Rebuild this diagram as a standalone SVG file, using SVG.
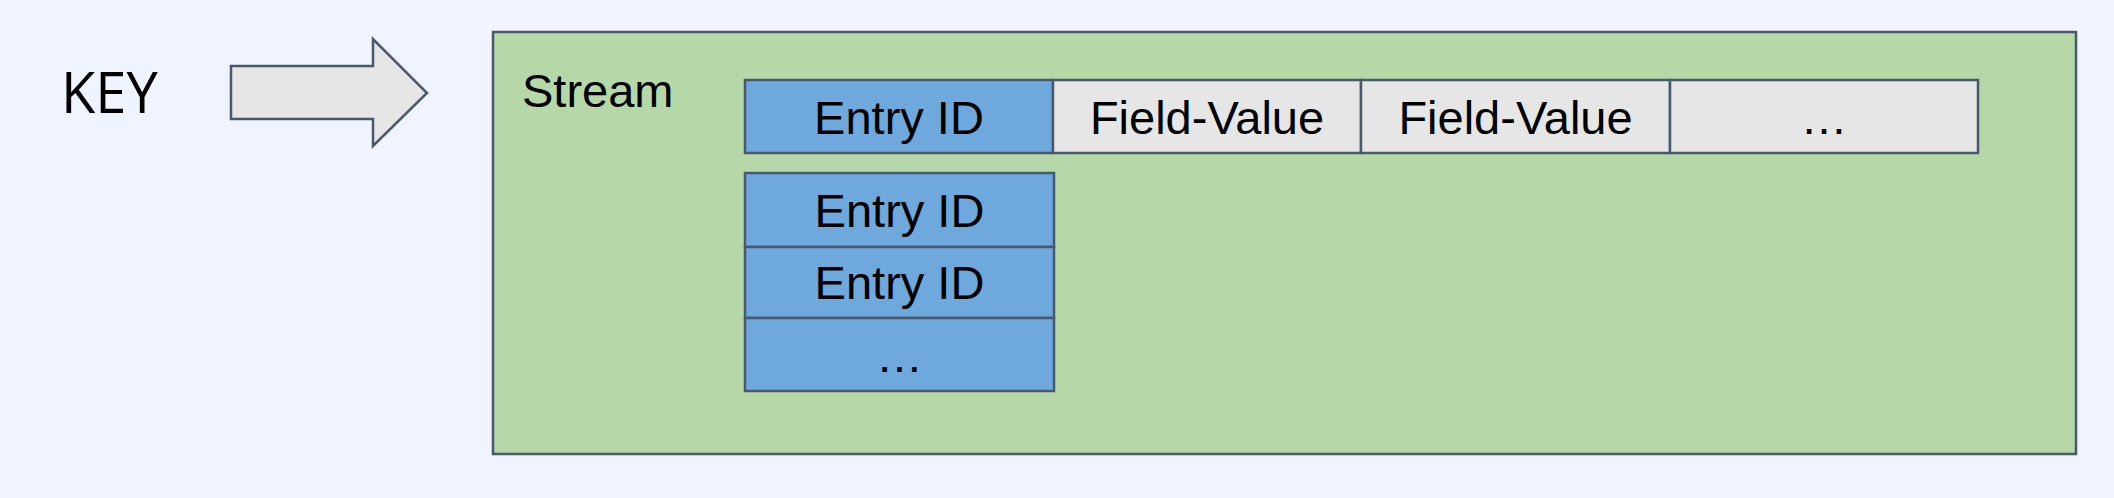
<svg xmlns="http://www.w3.org/2000/svg" width="2114" height="498" viewBox="0 0 2114 498">
<style>
.ln{stroke:#4a586e;stroke-width:2.5;stroke-linejoin:miter}
.blue{fill:#6fa8dc}
.grey{fill:#e6e6e6}
.t{font-family:"Liberation Sans",Arial,sans-serif;font-size:47px;fill:#000;text-anchor:middle}
</style>
<rect x="0" y="0" width="2114" height="498" fill="#f0f4fe"/>
<g id="key">
<text x="61" y="113" style="font-family:'Open Sans','Noto Sans',sans-serif;font-size:56px;fill:#000">KEY</text>
</g>
<g id="connectors">
<path class="ln grey" d="M231,66 L373,66 L373,39 L427,93 L373,146 L373,119 L231,119 Z"/>
</g>
<g id="stream">
<rect class="ln" x="493" y="32" width="1583" height="422" fill="#b6d7a8"/>
<text x="522" y="107" style="font-family:'Liberation Sans',Arial,sans-serif;font-size:47px;fill:#000">Stream</text>
</g>
<g id="entry-row">
<rect class="ln blue" x="745" y="80" width="308" height="73"/>
<rect class="ln grey" x="1053" y="80" width="308" height="73"/>
<rect class="ln grey" x="1361" y="80" width="309" height="73"/>
<rect class="ln grey" x="1670" y="80" width="308" height="73"/>
<text class="t" x="899" y="134">Entry ID</text>
<text class="t" x="1207" y="134">Field-Value</text>
<text class="t" x="1515.5" y="134">Field-Value</text>
<text class="t" x="1824" y="134">…</text>
</g>
<g id="entry-list">
<rect class="ln blue" x="745" y="173" width="309" height="74"/>
<rect class="ln blue" x="745" y="247" width="309" height="71"/>
<rect class="ln blue" x="745" y="318" width="309" height="73"/>
<text class="t" x="899.5" y="227">Entry ID</text>
<text class="t" x="899.5" y="299">Entry ID</text>
<text class="t" x="899.5" y="372">…</text>
</g>
</svg>
